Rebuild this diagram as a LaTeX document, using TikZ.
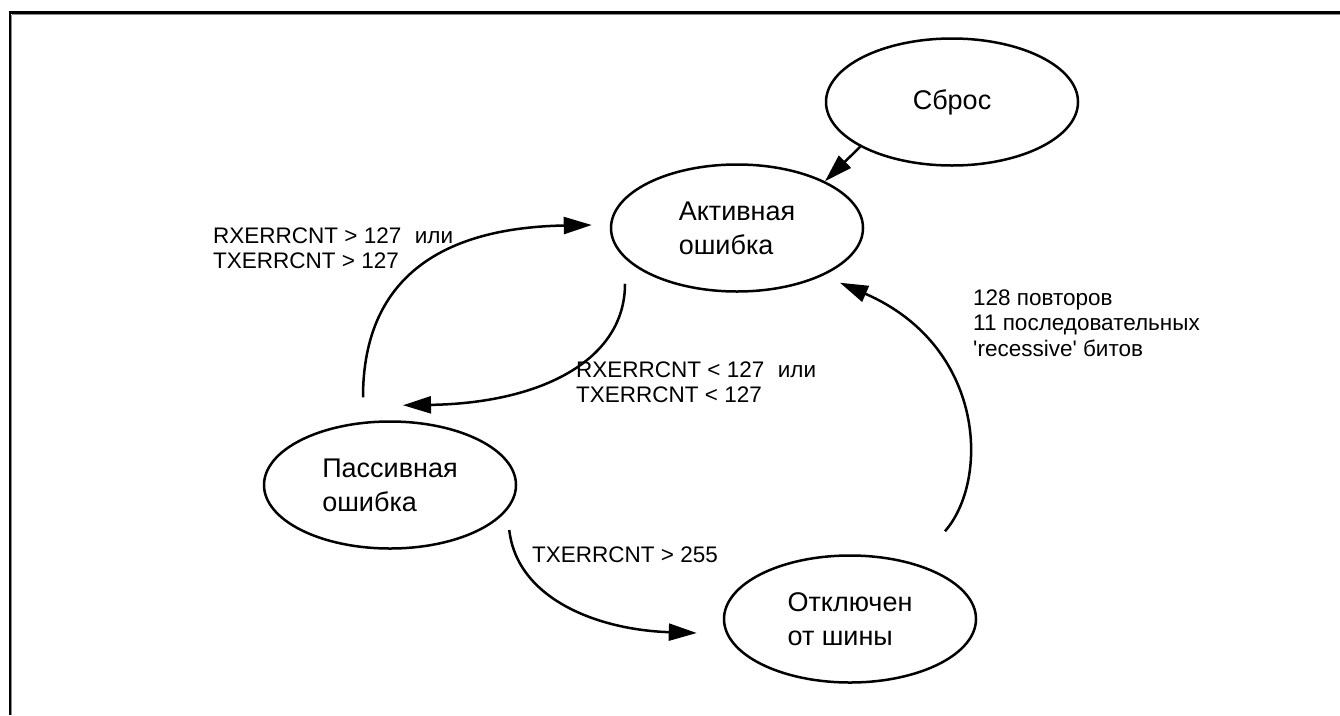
\documentclass[tikz,border=0pt]{standalone}
\usepackage{fontspec}
\setmainfont{Liberation Sans}
\newfontfamily\rawsans{Liberation Sans}
\usetikzlibrary{shapes.geometric,arrows.meta}
\begin{document}
\begin{tikzpicture}[x=1pt,y=-1pt,
  state/.style={draw, ellipse, line width=2.5pt, inner sep=0pt,
    minimum width=252pt, minimum height=127pt, align=left,
    font=\rawsans\fontsize{27}{34}\selectfont},
  trans/.style={line width=2.5pt, -{Triangle[length=28pt,width=17pt]}},
  cond/.style={anchor=base west, inner sep=0pt, font=\rawsans\fontsize{22.5}{25.5}\selectfont},
  frameline/.style={line width=3pt, black},
  frameshade/.style={line width=1pt, black!45}
]
\useasboundingbox (0,0) rectangle (1340,715);
\fill[white] (0,0) rectangle (1340,715);
% frame
\draw[frameshade] (11.5,14.5) -- (1340,14.5);
\draw[frameshade] (11.5,14.5) -- (11.5,715);
\draw[frameline] (8.5,12.5) -- (1340,12.5);
\draw[line width=2pt] (10,11) -- (10,715);

% states
\node[state] (reset) at (952,102) {Сброс};
\node[state] (active) at (737,228) {Активная\\ошибка};
\node[state] (passive) at (390,485) {Пассивная\\ошибка};
\node[state] (busoff) at (850,619) {Отключен\\от шины};

% transitions
\draw[trans] (reset.206) -- (active.28);
\draw[trans] ([xshift=-27pt,yshift=23pt]passive.north)
  .. controls +(0,-109) and +(-163,3) .. ([xshift=-18pt,yshift=3pt]active.west);
\draw[trans] ([xshift=-112pt,yshift=9pt]active.south)
  .. controls +(0,77) and +(137,-2) .. ([xshift=13pt,yshift=15pt]passive.north);
\draw[trans] ([xshift=-8pt,yshift=-45pt]passive.east)
  .. controls +(8,70) and +(-97,-3) .. ([xshift=-26pt,yshift=-14pt]busoff.west);
\draw[trans] ([xshift=95pt,yshift=23pt]busoff.north)
  .. controls +(45,-52) and +(145,63) .. ([xshift=103pt,yshift=10pt]active.south);

% conditions
\node[cond] (toPassive) at (213,243) {\begin{tabular}[t]{@{}l@{}}RXERRCNT > 127\hspace{0.6em}или\\TXERRCNT > 127\end{tabular}};
\node[cond] (toActive) at (576,377) {\begin{tabular}[t]{@{}l@{}}RXERRCNT < 127\hspace{0.6em}или\\TXERRCNT < 127\end{tabular}};
\node[cond] (toBusOff) at (532,562) {TXERRCNT > 255};
\node[cond] (recover) at (973,305) {\begin{tabular}[t]{@{}l@{}}128 повторов\\11 последовательных\\'recessive' битов\end{tabular}};
\end{tikzpicture}
\end{document}
